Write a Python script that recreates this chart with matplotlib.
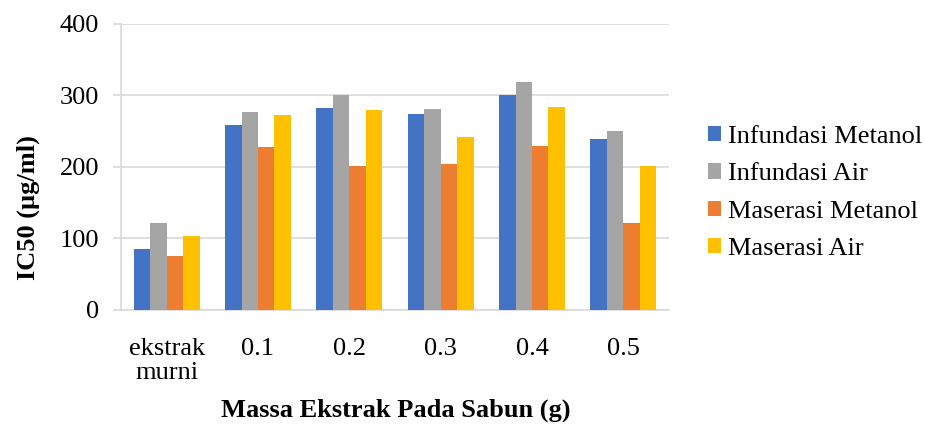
import numpy as np
import matplotlib
matplotlib.use("Agg")
import matplotlib.pyplot as plt

categories = ["ekstrak\nmurni", "0.1", "0.2", "0.3", "0.4", "0.5"]
infundasi_metanol = [85, 259, 283, 274, 300, 239]
infundasi_air = [121, 277, 301, 281, 319, 250]
maserasi_metanol = [75, 228, 201, 204, 230, 122]
maserasi_air = [104, 273, 280, 242, 284, 201]

series = [
    ("Infundasi Metanol", infundasi_metanol, "#4472C4"),
    ("Infundasi Air", infundasi_air, "#A5A5A5"),
    ("Maserasi Metanol", maserasi_metanol, "#ED7D31"),
    ("Maserasi Air", maserasi_air, "#FFC000"),
]

plt.rcParams["font.family"] = ["Liberation Serif", "DejaVu Serif"]
FS = 19

fig = plt.figure(figsize=(9.25, 4.24), dpi=100)
ax = fig.add_axes([0.1308, 0.2689, 0.5924, 0.6745])

x = np.arange(len(categories))
width = 0.18
for i, (name, vals, color) in enumerate(series):
    ax.bar(x + (i - 1.5) * width, vals, width, color=color, label=name, zorder=3)

ax.set_xlim(-0.5, len(categories) - 0.5)
ax.set_ylim(0, 400)
ax.set_yticks(range(0, 401, 100))
ax.set_xticks(x)
ax.set_xticklabels(categories, fontsize=FS, linespacing=1.15)
ax.tick_params(axis="y", labelsize=FS, length=5.8, color="#D9D9D9", width=1.2, pad=10)
ax.tick_params(axis="x", length=0, pad=20)
ax.grid(True, axis="y", color="#D9D9D9", linewidth=1.2, zorder=0)

for side in ("top", "right"):
    ax.spines[side].set_visible(False)
for side in ("left", "bottom"):
    ax.spines[side].set_color("#D9D9D9")
    ax.spines[side].set_linewidth(1.2)

ax.set_ylabel("IC50 (µg/ml)", fontsize=FS, fontweight="bold")
ax.yaxis.set_label_coords(-0.148, 0.358)
ax.set_xlabel("Massa Ekstrak Pada Sabun (g)", fontsize=FS, fontweight="bold")
ax.xaxis.set_label_coords(0.501, -0.31)

ax.legend(loc="center left", bbox_to_anchor=(708 / 925, 1 - 193 / 424),
          bbox_transform=fig.transFigure, frameon=False, borderpad=0,
          borderaxespad=0, fontsize=FS, handlelength=0.5, handleheight=0.5,
          handletextpad=0.25, labelspacing=0.58)

fig.savefig("out.png", dpi=100)
